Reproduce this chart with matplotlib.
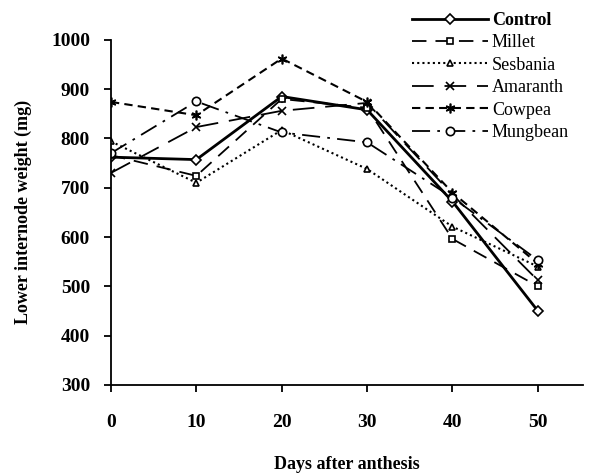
import matplotlib
matplotlib.use('Agg')
import matplotlib.pyplot as plt

days = [0, 10, 20, 30, 40, 50]

control = [762, 757, 885, 858, 672, 450]
millet = [766, 724, 880, 862, 596, 500]
sesbania = [794, 710, 817, 738, 621, 540]
amaranth = [730, 823, 856, 872, 686, 512]
cowpea = [874, 847, 962, 874, 690, 546]
mungbean = [770, 875, 812, 792, 680, 553]

yticks = [300, 400, 500, 600, 700, 800, 900, 1000]
xticks = [0, 10, 20, 30, 40, 50]

plt.rcParams['font.family'] = ['Liberation Serif', 'DejaVu Serif']

fig = plt.figure(figsize=(6.03, 4.74), dpi=100)
ax = fig.add_axes([0.184, 0.188, 0.783, 0.728])

k = dict(color='black', mfc='white', mec='black', mew=1.2)
ax.plot(days, control, ls='-', lw=2.0, marker='D', ms=5, label='Control', **k)
ax.plot(days, millet, ls=(0, (8, 5)), lw=1.3, marker='s', ms=5, label='Millet', **k)
ax.plot(days, sesbania, ls=(0, (1, 1.5)), lw=1.5, marker='^', ms=5, label='Sesbania', **k)
ax.plot(days, amaranth, ls=(0, (12, 6)), lw=1.3, marker='x', ms=6, label='Amaranth', **k)
ax.plot(days, cowpea, ls=(0, (4, 2.5)), lw=1.5, marker=(6, 2, 0), ms=7, label='Cowpea', **k)
ax.plot(days, mungbean, ls=(0, (10, 4, 1.5, 4)), lw=1.3, marker='o', ms=6, label='Mungbean', **k)

ax.set_xlim(0, 55.3)
ax.set_ylim(300, 1000)
ax.set_xticks(xticks)
ax.set_yticks(yticks)
ax.spines['top'].set_visible(False)
ax.spines['right'].set_visible(False)
ax.spines['left'].set_linewidth(1.3)
ax.spines['bottom'].set_linewidth(1.3)
ax.tick_params(direction='out', length=5, width=1.3, labelsize=14)
ax.tick_params(axis='x', pad=16)
ax.tick_params(axis='y', pad=10)
for t in ax.get_xticklabels() + ax.get_yticklabels():
    t.set_fontweight('bold')

ax.set_xlabel('Days after anthesis', fontsize=13, fontweight='bold')
ax.xaxis.set_label_coords(0.5, -0.205)
ax.set_ylabel('Lower internode weight (mg)', fontsize=13, fontweight='bold', labelpad=14)

leg = fig.legend(loc='upper left', bbox_to_anchor=(0.672, 0.99), frameon=False,
                 fontsize=13, handlelength=4.2, handletextpad=0.2, labelspacing=0.3,
                 borderaxespad=0)
leg.get_texts()[0].set_fontweight('bold')

fig.savefig('out.png', dpi=100)
